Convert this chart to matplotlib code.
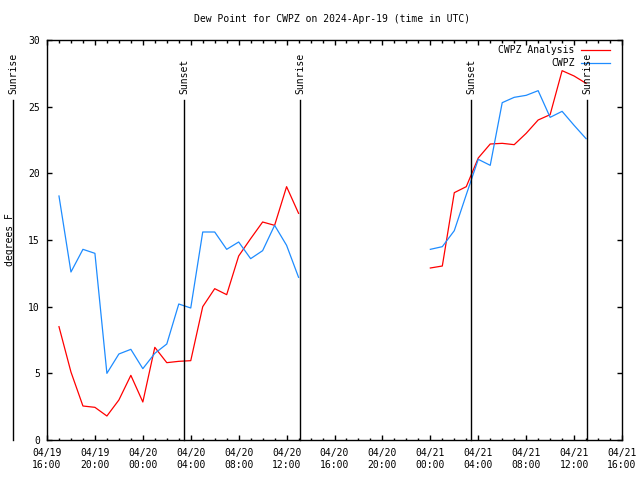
import numpy as np
import pandas as pd
import matplotlib
matplotlib.use("Agg")
import matplotlib.pyplot as plt
import matplotlib.dates as mdates

plt.rcParams['font.family'] = ['DejaVu Sans Mono']
plt.rcParams['font.size'] = 7

## hourly times (UTC) for the two chunks of data
times1 = pd.date_range("2024-04-19 17:00", periods=21, freq="h")
times2 = pd.date_range("2024-04-21 00:00", periods=14, freq="h")

## dew point, degrees F
analysis1 = [8.5, 5.1, 2.55, 2.45, 1.8, 3.0, 4.85, 2.85, 6.95, 5.8, 5.9,
             5.95, 10.0, 11.35, 10.9, 13.8, 15.1, 16.35, 16.1, 19.0, 17.0]
obs1 = [18.3, 12.6, 14.3, 14.0, 5.0, 6.45, 6.8, 5.35, 6.5, 7.2, 10.2,
        9.9, 15.6, 15.6, 14.3, 14.85, 13.6, 14.2, 16.1, 14.6, 12.2]
analysis2 = [12.9, 13.05, 18.55, 19.0, 21.15, 22.2, 22.25, 22.15, 23.0,
             24.0, 24.4, 27.7, 27.3, 26.75]
obs2 = [14.3, 14.5, 15.7, 18.4, 21.05, 20.6, 25.3, 25.7, 25.85, 26.2,
        24.2, 24.65, 23.6, 22.6]

## sunrise / sunset markers
sun_times = pd.to_datetime(["2024-04-19 13:11", "2024-04-20 03:28",
                            "2024-04-20 13:09", "2024-04-21 03:25",
                            "2024-04-21 13:06"])
sun_labels = ["Sunrise", "Sunset", "Sunrise", "Sunset", "Sunrise"]

red = "#ff0000"
blue = "#1e8cff"

fig = plt.figure(figsize=(6.4, 4.8), dpi=100)
ax = fig.add_axes([47/640, 40/480, 575/640, 400/480])

ax.plot(times1, analysis1, color=red, lw=0.9)
ax.plot(times1, obs1, color=blue, lw=0.9)
ax.plot(times2, analysis2, color=red, lw=0.9)
ax.plot(times2, obs2, color=blue, lw=0.9)

for t, lab in zip(sun_times, sun_labels):
    ax.plot([t, t], [0, 25.5], color="black", lw=1, clip_on=False)
    ax.text(t, 25.95, lab, rotation=90, ha="center", va="bottom")

ax.set_xlim(pd.Timestamp("2024-04-19 16:00"), pd.Timestamp("2024-04-21 16:00"))
ax.set_ylim(0, 30)

ax.xaxis.set_major_locator(mdates.HourLocator(byhour=[0, 4, 8, 12, 16, 20]))
ax.xaxis.set_minor_locator(mdates.HourLocator())
ax.xaxis.set_major_formatter(mdates.DateFormatter("%m/%d\n%H:%M"))
ax.set_yticks([0, 5, 10, 15, 20, 25, 30])

ax.tick_params(which="both", direction="in", top=True, right=True,
               width=1, labelsize=7)
ax.tick_params(which="major", length=3.3)
ax.tick_params(which="minor", length=1.8)
ax.tick_params(axis="x", pad=6)
ax.tick_params(axis="y", pad=5)
for s in ax.spines.values():
    s.set_linewidth(1)

## legend, gnuplot style (text right-aligned, key on the right)
ax.text(0.918, 0.976, "CWPZ Analysis", transform=ax.transAxes, ha="right", va="center")
ax.plot([0.929, 0.979], [0.976, 0.976], color=red, lw=0.9, transform=ax.transAxes)
ax.text(0.918, 0.943, "CWPZ", transform=ax.transAxes, ha="right", va="center")
ax.plot([0.929, 0.979], [0.943, 0.943], color=blue, lw=0.9, transform=ax.transAxes)

fig.text(332/640, 1 - 19/480, "Dew Point for CWPZ on 2024-Apr-19 (time in UTC)",
         ha="center", va="center")
fig.text(10/640, 1 - 240/480, "degrees F", rotation=90, ha="center", va="center")

fig.savefig("out.png", dpi=100)
